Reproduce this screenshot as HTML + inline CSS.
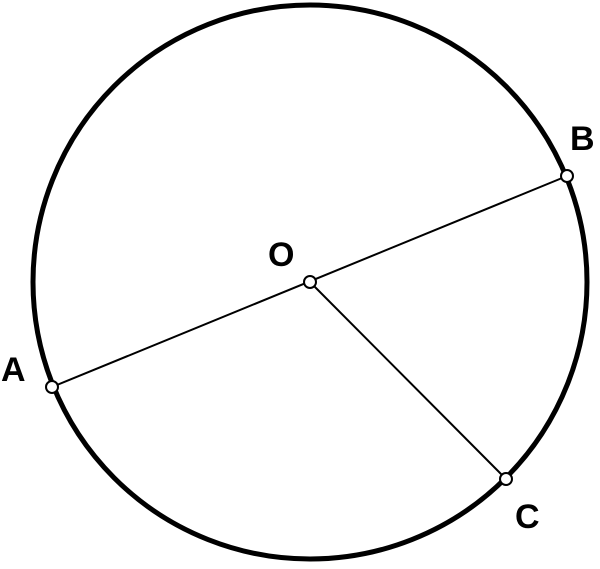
<!DOCTYPE html>
<html><head><meta charset="utf-8"><style>html,body{margin:0;padding:0;background:#fff}</style></head>
<body>
<svg width="600" height="564" viewBox="0 0 600 564" xmlns="http://www.w3.org/2000/svg">
<circle cx="310" cy="282" r="277" fill="none" stroke="#000" stroke-width="5"/>
<line x1="52" y1="387" x2="567" y2="176" stroke="#000" stroke-width="2"/>
<line x1="310" y1="282" x2="506" y2="479" stroke="#000" stroke-width="2"/>
<g fill="#fff" stroke="#000" stroke-width="2">
<circle cx="52" cy="387" r="6"/>
<circle cx="567" cy="176" r="6"/>
<circle cx="310" cy="282" r="6"/>
<circle cx="506" cy="479" r="6"/>
</g>
<g font-family="Liberation Sans, sans-serif" font-weight="bold" font-size="34" fill="#000">
<text x="1" y="381">A</text>
<text x="268" y="266">O</text>
<text x="570" y="150">B</text>
<text x="515" y="528">C</text>
</g>
</svg>
</body></html>
